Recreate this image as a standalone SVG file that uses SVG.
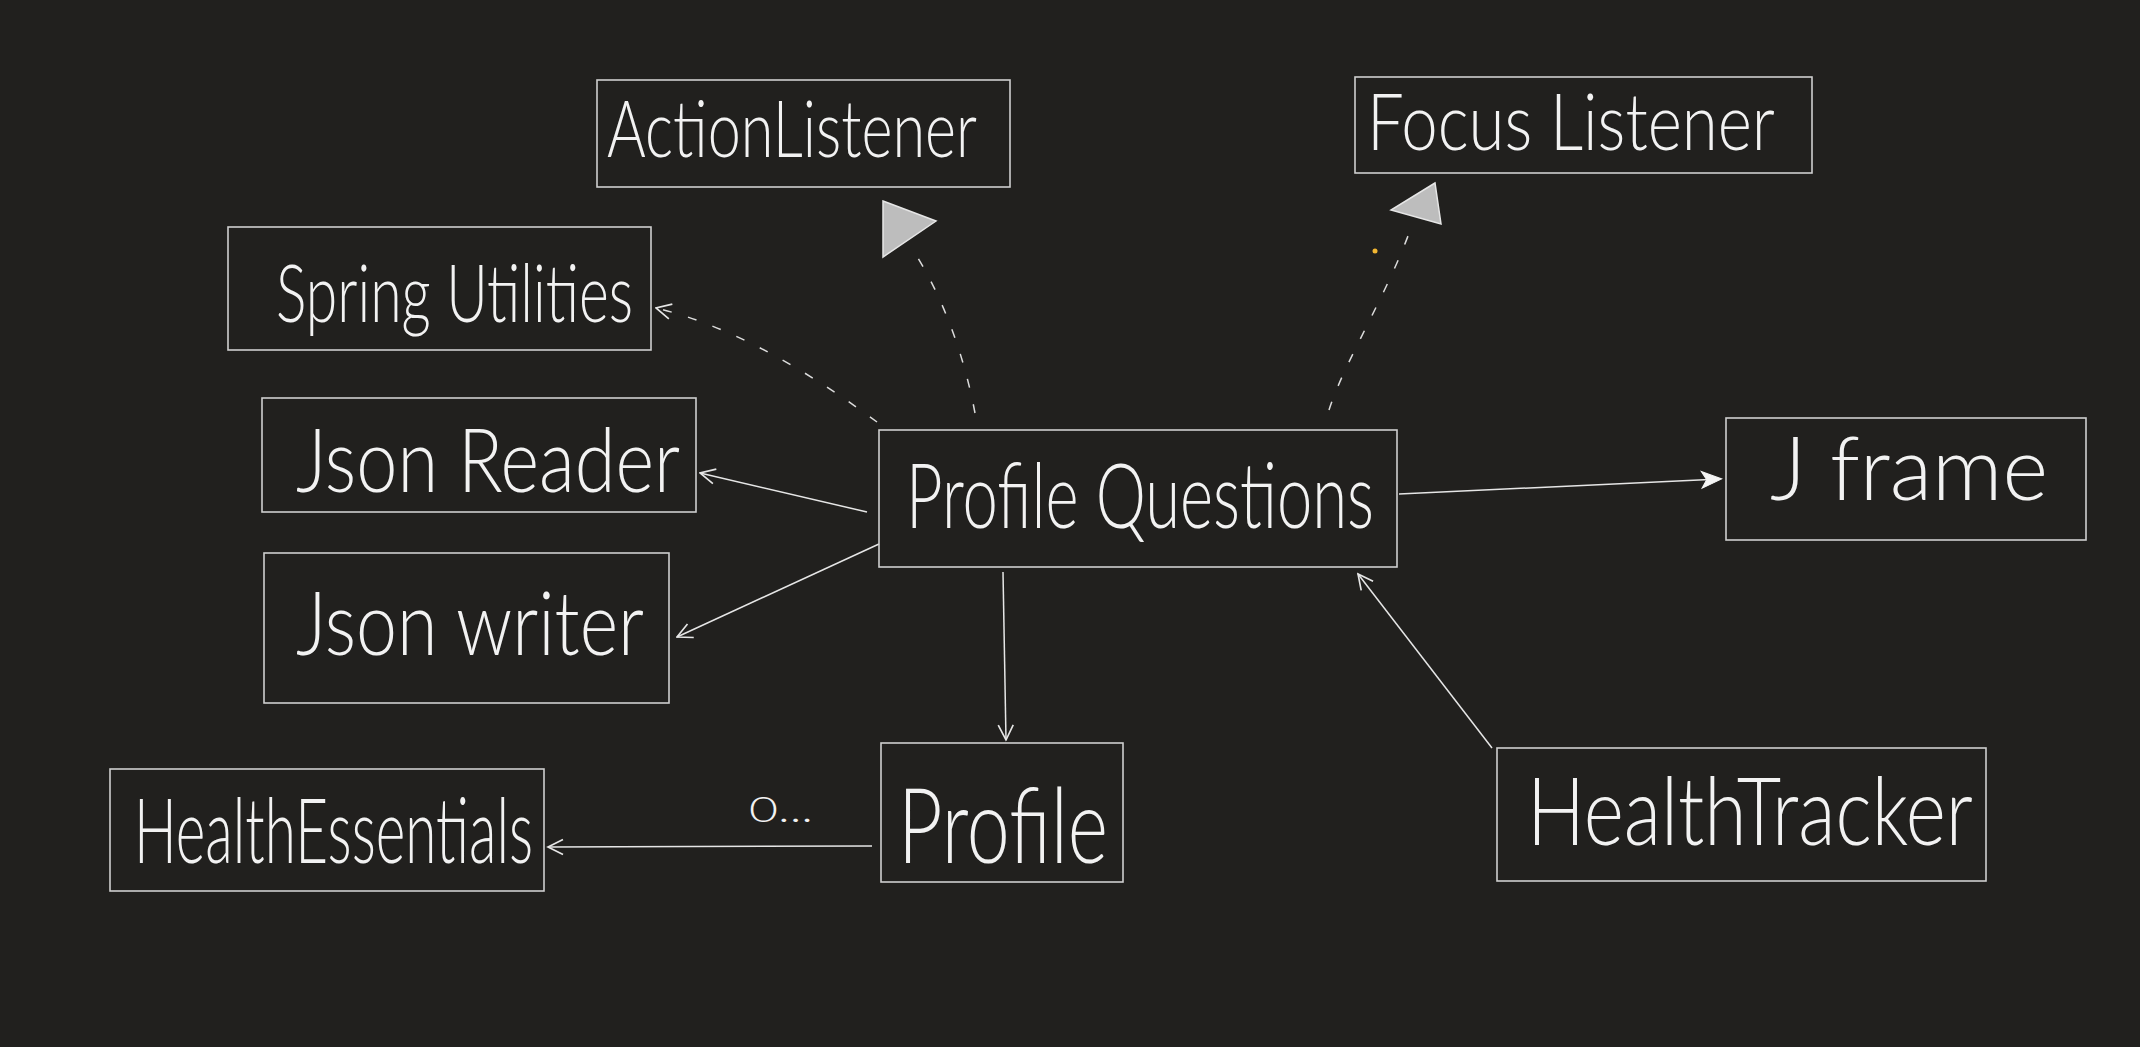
<svg xmlns="http://www.w3.org/2000/svg" width="2140" height="1047" viewBox="0 0 2140 1047">
<style>
.bg{fill:#21201e}
.box{fill:none;stroke:#cfcfcf;stroke-width:1.6}
.lbl{fill:#f2f2f2;font-family:"Lato","Open Sans","Liberation Sans",sans-serif;font-weight:300}
.ln{fill:none;stroke:#e6e6e6;stroke-width:1.5}
.dash{fill:none;stroke:#dcdcdc;stroke-width:1.5;stroke-dasharray:9 17}
.tri{fill:#bdbdbd;stroke:#e6e6e6;stroke-width:1.5}
</style>
<defs>
<marker id="open" viewBox="0 0 12 12" refX="11" refY="6" markerWidth="18" markerHeight="18" markerUnits="userSpaceOnUse" orient="auto">
<path d="M1,1 L11,6 L1,11" fill="none" stroke="#e6e6e6" stroke-width="1.1"/>
</marker>
<marker id="filled" viewBox="0 0 12 12" refX="11" refY="6" markerWidth="26" markerHeight="20" markerUnits="userSpaceOnUse" orient="auto">
<path d="M0,1 L12,6 L0,11 L3,6 Z" fill="#f5f5f5" stroke="#f5f5f5" stroke-width="0.6"/>
</marker>
</defs>
<rect class="bg" x="0" y="0" width="2140" height="1047"/>

<g id="connectors">
<path class="dash" d="M975,413 C965,360 945,300 913,250"/>
<polygon class="tri" points="883,201 936,221 883,257"/>
<path class="dash" d="M1329,410 C1345,360 1390,290 1413,222"/>
<polygon class="tri" points="1435,183 1391,210 1441,224"/>
<path class="dash" d="M877,422 C820,380 740,328 656,308" marker-end="url(#open)"/>
<path class="ln" d="M867,512 L700,473" marker-end="url(#open)"/>
<path class="ln" d="M879,544 L677,637" marker-end="url(#open)"/>
<path class="ln" d="M1003,572 L1006,740" marker-end="url(#open)"/>
<path class="ln" d="M1399,494 L1720,479" marker-end="url(#filled)"/>
<path class="ln" d="M872,846 L548,847" marker-end="url(#open)"/>
<path class="ln" d="M1492,748 L1358,574" marker-end="url(#open)"/>
<text class="lbl" x="749" y="822" font-size="36" textLength="64" lengthAdjust="spacingAndGlyphs">0...</text>
<circle cx="1375" cy="251" r="2.5" fill="#f2b632"/>
</g>

<g id="action-listener">
<rect class="box" x="597" y="80" width="413" height="107"/>
<text class="lbl" x="607" y="157" font-size="78" textLength="370" lengthAdjust="spacingAndGlyphs">ActionListener</text>
</g>
<g id="focus-listener">
<rect class="box" x="1355" y="77" width="457" height="96"/>
<text class="lbl" x="1367" y="150" font-size="78" textLength="408" lengthAdjust="spacingAndGlyphs">Focus Listener</text>
</g>
<g id="spring-utilities">
<rect class="box" x="228" y="227" width="423" height="123"/>
<text class="lbl" x="276" y="322" font-size="80" textLength="357" lengthAdjust="spacingAndGlyphs">Spring Utilities</text>
</g>
<g id="json-reader">
<rect class="box" x="262" y="398" width="434" height="114"/>
<text class="lbl" x="296" y="492" font-size="88" textLength="384" lengthAdjust="spacingAndGlyphs">Json Reader</text>
</g>
<g id="json-writer">
<rect class="box" x="264" y="553" width="405" height="150"/>
<text class="lbl" x="296" y="655" font-size="88" textLength="348" lengthAdjust="spacingAndGlyphs">Json writer</text>
</g>
<g id="profile-questions">
<rect class="box" x="879" y="430" width="518" height="137"/>
<text class="lbl" x="906" y="528" font-size="90" textLength="468" lengthAdjust="spacingAndGlyphs">Profile Questions</text>
</g>
<g id="jframe">
<rect class="box" x="1726" y="418" width="360" height="122"/>
<text class="lbl" x="1770" y="500" font-size="88" textLength="278" lengthAdjust="spacingAndGlyphs">J frame</text>
</g>
<g id="health-essentials">
<rect class="box" x="110" y="769" width="434" height="122"/>
<text class="lbl" x="134" y="863" font-size="90" textLength="399" lengthAdjust="spacingAndGlyphs">HealthEssentials</text>
</g>
<g id="profile">
<rect class="box" x="881" y="743" width="242" height="139"/>
<text class="lbl" x="898" y="863" font-size="104" textLength="210" lengthAdjust="spacingAndGlyphs">Profile</text>
</g>
<g id="health-tracker">
<rect class="box" x="1497" y="748" width="489" height="133"/>
<text class="lbl" x="1527" y="845" font-size="95" textLength="446" lengthAdjust="spacingAndGlyphs">HealthTracker</text>
</g>
</svg>
